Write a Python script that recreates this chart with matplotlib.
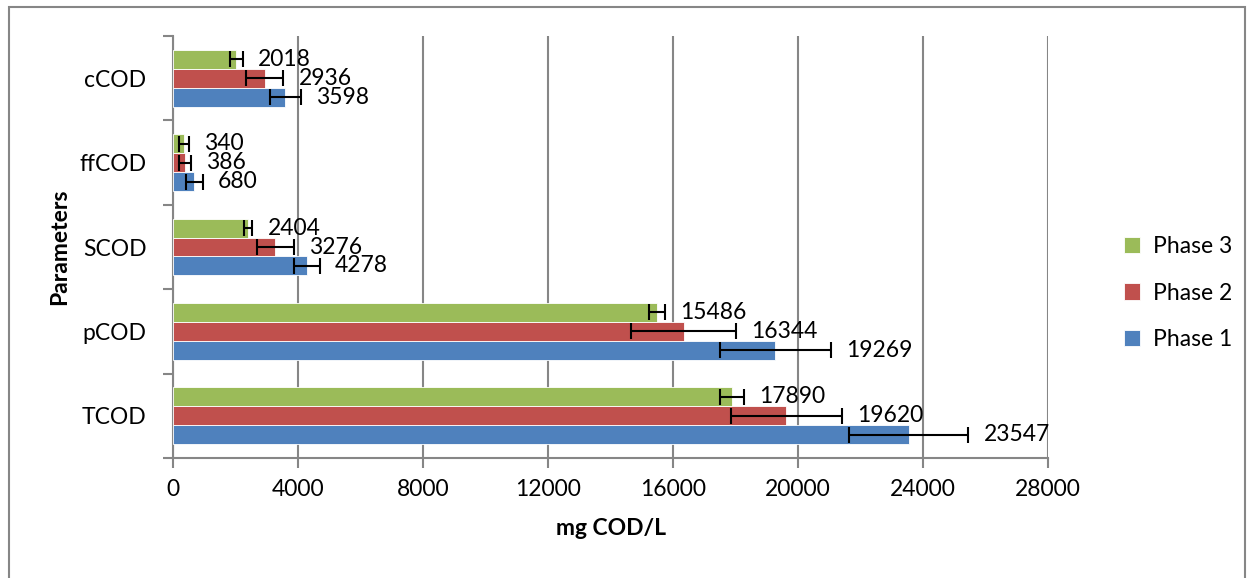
import matplotlib.pyplot as plt
import matplotlib.patches as mpatches
import numpy as np

plt.rcParams['font.family'] = ['Lato', 'DejaVu Sans']

# data (bottom to top)
params = ['TCOD', 'pCOD', 'SCOD', 'ffCOD', 'cCOD']
phase1 = [23547, 19269, 4278, 680, 3598]
phase2 = [19620, 16344, 3276, 386, 2936]
phase3 = [17890, 15486, 2404, 340, 2018]
err1 = [1900, 1780, 420, 270, 500]
err2 = [1780, 1680, 580, 180, 590]
err3 = [380, 260, 130, 160, 210]

colors = ['#4F81BD', '#C0504D', '#9BBB59']
labels = ['Phase 1', 'Phase 2', 'Phase 3']
grid_col = '#868686'

fig = plt.figure(figsize=(12.54, 5.78), dpi=100)
ax = fig.add_axes([173/1254, 1-458/578, (1048-173)/1254, (458-36)/578])

# outer chart border
fig.patches.append(mpatches.Rectangle((9/1254, -0.05), (1245-9)/1254, 1.05-7/578,
                                      transform=fig.transFigure, fill=False,
                                      edgecolor=grid_col, linewidth=1.5))

y = np.arange(len(params))
h = 0.225
series = [(phase1, err1), (phase2, err2), (phase3, err3)]
handles = []
for i, (vals, errs) in enumerate(series):
    pos = y + (i - 1) * h
    b = ax.barh(pos, vals, height=h, color=colors[i], edgecolor='white',
                linewidth=0.6, label=labels[i], zorder=3)
    handles.append(b)
    ax.errorbar(vals, pos, xerr=errs, fmt='none', ecolor='black',
                elinewidth=1.5, capsize=5.5, capthick=1.5, zorder=4)
    for v, e, p in zip(vals, errs, pos):
        ax.annotate(str(v), (v + e, p), xytext=(11, 0), textcoords='offset points',
                    va='center', ha='left', fontsize=16.5, zorder=5)

ax.set_xlim(0, 28000)
ax.set_ylim(-0.5, len(params) - 0.5)
ax.set_xticks(np.arange(0, 28001, 4000))
ax.set_yticks(y)
ax.set_yticklabels(params)
ax.set_yticks(np.arange(-0.5, len(params), 1), minor=True)
ax.tick_params(axis='y', which='major', length=0, pad=19, labelsize=16.5)
ax.tick_params(axis='y', which='minor', length=7, width=1.5, color=grid_col)
ax.tick_params(axis='x', length=7, width=1.5, color=grid_col, labelsize=16.5, pad=8)
ax.xaxis.grid(True, color=grid_col, linewidth=1.5, zorder=0)
ax.set_axisbelow(True)
for s in ['top', 'right']:
    ax.spines[s].set_visible(False)
for s in ['left', 'bottom']:
    ax.spines[s].set_color(grid_col)
    ax.spines[s].set_linewidth(1.5)

ax.set_xlabel('mg COD/L', fontsize=16.5, fontweight='bold', labelpad=13)
ax.set_ylabel('Parameters', fontsize=16.5, fontweight='bold')
ax.yaxis.set_label_coords(-0.117, 0.5)

fig.legend(handles[::-1], labels[::-1], loc='center left',
           bbox_to_anchor=(1103/1254, 1-293/578), frameon=False, fontsize=16.5,
           handlelength=0.7, handleheight=0.7, labelspacing=1.1, handletextpad=0.6)

fig.savefig('out.png', dpi=100)
